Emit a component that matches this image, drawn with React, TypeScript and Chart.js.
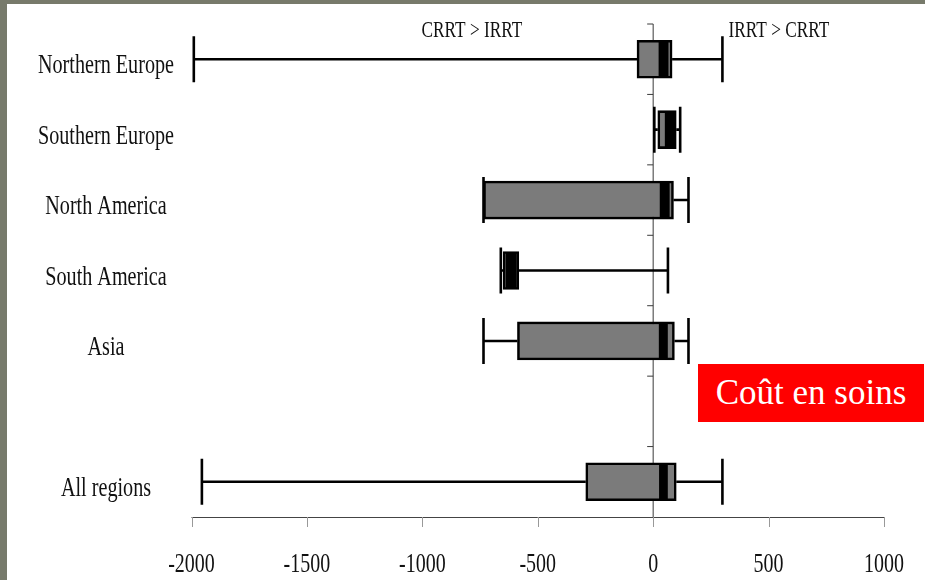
import React, { useEffect, useRef } from "react";
import { Chart, registerables } from "chart.js";

Chart.register(...registerables);

// Regions (the blank entry is the spacer row above "All regions")
const regions = ["Northern Europe", "Southern Europe", "North America", "South America", "Asia", "", "All regions"];
// Cost difference, IRRT minus CRRT
const whiskerLow = [-1990, 5, -735, -660, -735, null, -1955];
const boxLow = [-70, 20, -735, -650, -588, null, -292];
const medianLow = [25, 52, 30, -637, 26, null, 27];
const medianHigh = [65, 90, 70, -593, 62, null, 62];
const boxHigh = [82, 100, 88, -582, 92, null, 100];
const whiskerHigh = [300, 117, 153, 64, 153, null, 300];
const xTicks = [-2000, -1500, -1000, -500, 0, 500, 1000];
const sideNotes = [
  { text: "CRRT > IRRT", at: -785 },
  { text: "IRRT > CRRT", at: 545 },
];

const SERIF = '"Liberation Serif", "Times New Roman", serif';
const SQUEEZE = 0.74;

function squeezedText(ctx: CanvasRenderingContext2D, text: string, x: number, y: number, size: number, sx: number) {
  ctx.save();
  ctx.translate(x, y);
  ctx.scale(sx, 1);
  ctx.font = `${size}px ${SERIF}`;
  ctx.fillStyle = "#111";
  ctx.textAlign = "center";
  ctx.textBaseline = "alphabetic";
  ctx.fillText(text, 0, 0);
  ctx.restore();
}

const boxPlotPlugin = {
  id: "boxPlotFrame",
  beforeDatasetsDraw(chart: any) {
    const { ctx, chartArea, scales } = chart;
    const xs = scales.x;
    const ys = scales.y;
    const zeroX = xs.getPixelForValue(0);

    ctx.save();
    // zero reference line with category dividers
    ctx.strokeStyle = "#3a3a3a";
    ctx.lineWidth = 1;
    ctx.beginPath();
    ctx.moveTo(zeroX, chartArea.top);
    ctx.lineTo(zeroX, chartArea.bottom);
    const band = (chartArea.bottom - chartArea.top) / regions.length;
    for (let i = 0; i < regions.length; i++) {
      const yb = chartArea.top + i * band;
      ctx.moveTo(zeroX - 6, yb);
      ctx.lineTo(zeroX, yb);
    }
    ctx.stroke();

    // x axis line and tick marks
    ctx.strokeStyle = "#444";
    ctx.beginPath();
    ctx.moveTo(chartArea.left, chartArea.bottom + 0.5);
    ctx.lineTo(chartArea.right, chartArea.bottom + 0.5);
    ctx.stroke();
    ctx.strokeStyle = "#999";
    ctx.beginPath();
    xTicks.forEach((v) => {
      const px = Math.round(xs.getPixelForValue(v)) + 0.5;
      ctx.moveTo(px, chartArea.bottom);
      ctx.lineTo(px, chartArea.bottom + 10);
    });
    ctx.stroke();

    // whiskers and caps
    ctx.strokeStyle = "#000";
    ctx.lineWidth = 2.6;
    regions.forEach((_, i) => {
      if (whiskerLow[i] == null) return;
      const yc = ys.getPixelForValue(i);
      const a = xs.getPixelForValue(whiskerLow[i] as number);
      const b = xs.getPixelForValue(boxLow[i] as number);
      const c = xs.getPixelForValue(boxHigh[i] as number);
      const d = xs.getPixelForValue(whiskerHigh[i] as number);
      ctx.beginPath();
      ctx.moveTo(a, yc);
      ctx.lineTo(b, yc);
      ctx.moveTo(c, yc);
      ctx.lineTo(d, yc);
      ctx.moveTo(a, yc - 23);
      ctx.lineTo(a, yc + 23);
      ctx.moveTo(d, yc - 23);
      ctx.lineTo(d, yc + 23);
      ctx.stroke();
    });
    ctx.restore();
  },
  afterDraw(chart: any) {
    const { ctx, chartArea, scales } = chart;
    const xs = scales.x;
    const ys = scales.y;
    regions.forEach((name, i) => {
      if (!name) return;
      squeezedText(ctx, name, 106, ys.getPixelForValue(i) + 14, 28, 0.72);
    });
    xTicks.forEach((v) => {
      squeezedText(ctx, String(v), xs.getPixelForValue(v), chartArea.bottom + 55, 27, SQUEEZE);
    });
    sideNotes.forEach((n) => {
      squeezedText(ctx, n.text, xs.getPixelForValue(n.at), 37, 24, 0.72);
    });
  },
};

export default function App() {
  const canvasRef = useRef<HTMLCanvasElement | null>(null);

  useEffect(() => {
    document.body.style.margin = "0";
    const canvas = canvasRef.current;
    if (!canvas) return;
    const chart = new Chart(canvas, {
      type: "bar",
      data: {
        labels: regions,
        datasets: [
          {
            label: "Interquartile range",
            data: regions.map((_, i) => (boxLow[i] == null ? null : [boxLow[i], boxHigh[i]])) as any,
            backgroundColor: "#7b7b7b",
            borderColor: "#000",
            borderWidth: 2.6,
            borderSkipped: false,
            barThickness: 38,
            grouped: false,
            order: 2,
          },
          {
            label: "Median",
            data: regions.map((_, i) => (medianLow[i] == null ? null : [medianLow[i], medianHigh[i]])) as any,
            backgroundColor: "#000",
            borderWidth: 0,
            barThickness: 36,
            grouped: false,
            order: 1,
          },
        ],
      },
      options: {
        indexAxis: "y",
        animation: false,
        responsive: false,
        maintainAspectRatio: false,
        layout: { padding: { left: 191.5, right: 41, top: 24, bottom: 63 } },
        scales: {
          x: { type: "linear", min: -2000, max: 1000, display: false },
          y: { type: "category", offset: true, display: false },
        },
        plugins: {
          legend: { display: false },
          tooltip: { enabled: false },
        },
      },
      plugins: [boxPlotPlugin],
    });
    return () => chart.destroy();
  }, []);

  return (
    <div style={{ position: "relative", width: 925, height: 580, background: "#fff", overflow: "hidden" }}>
      <canvas ref={canvasRef} width={925} height={580} style={{ position: "absolute", left: 0, top: 0 }} />
      <div style={{ position: "absolute", left: 0, top: 0, width: 925, height: 4, background: "#777a6b" }} />
      <div style={{ position: "absolute", left: 0, top: 0, width: 7, height: 580, background: "#777a6b" }} />
      <div
        style={{
          position: "absolute",
          left: 698,
          top: 364,
          width: 226,
          height: 58,
          background: "#ff0000",
          color: "#fff",
          fontFamily: SERIF,
          fontSize: 35,
          display: "flex",
          alignItems: "center",
          justifyContent: "center",
        }}
      >
        Coût en soins
      </div>
    </div>
  );
}
